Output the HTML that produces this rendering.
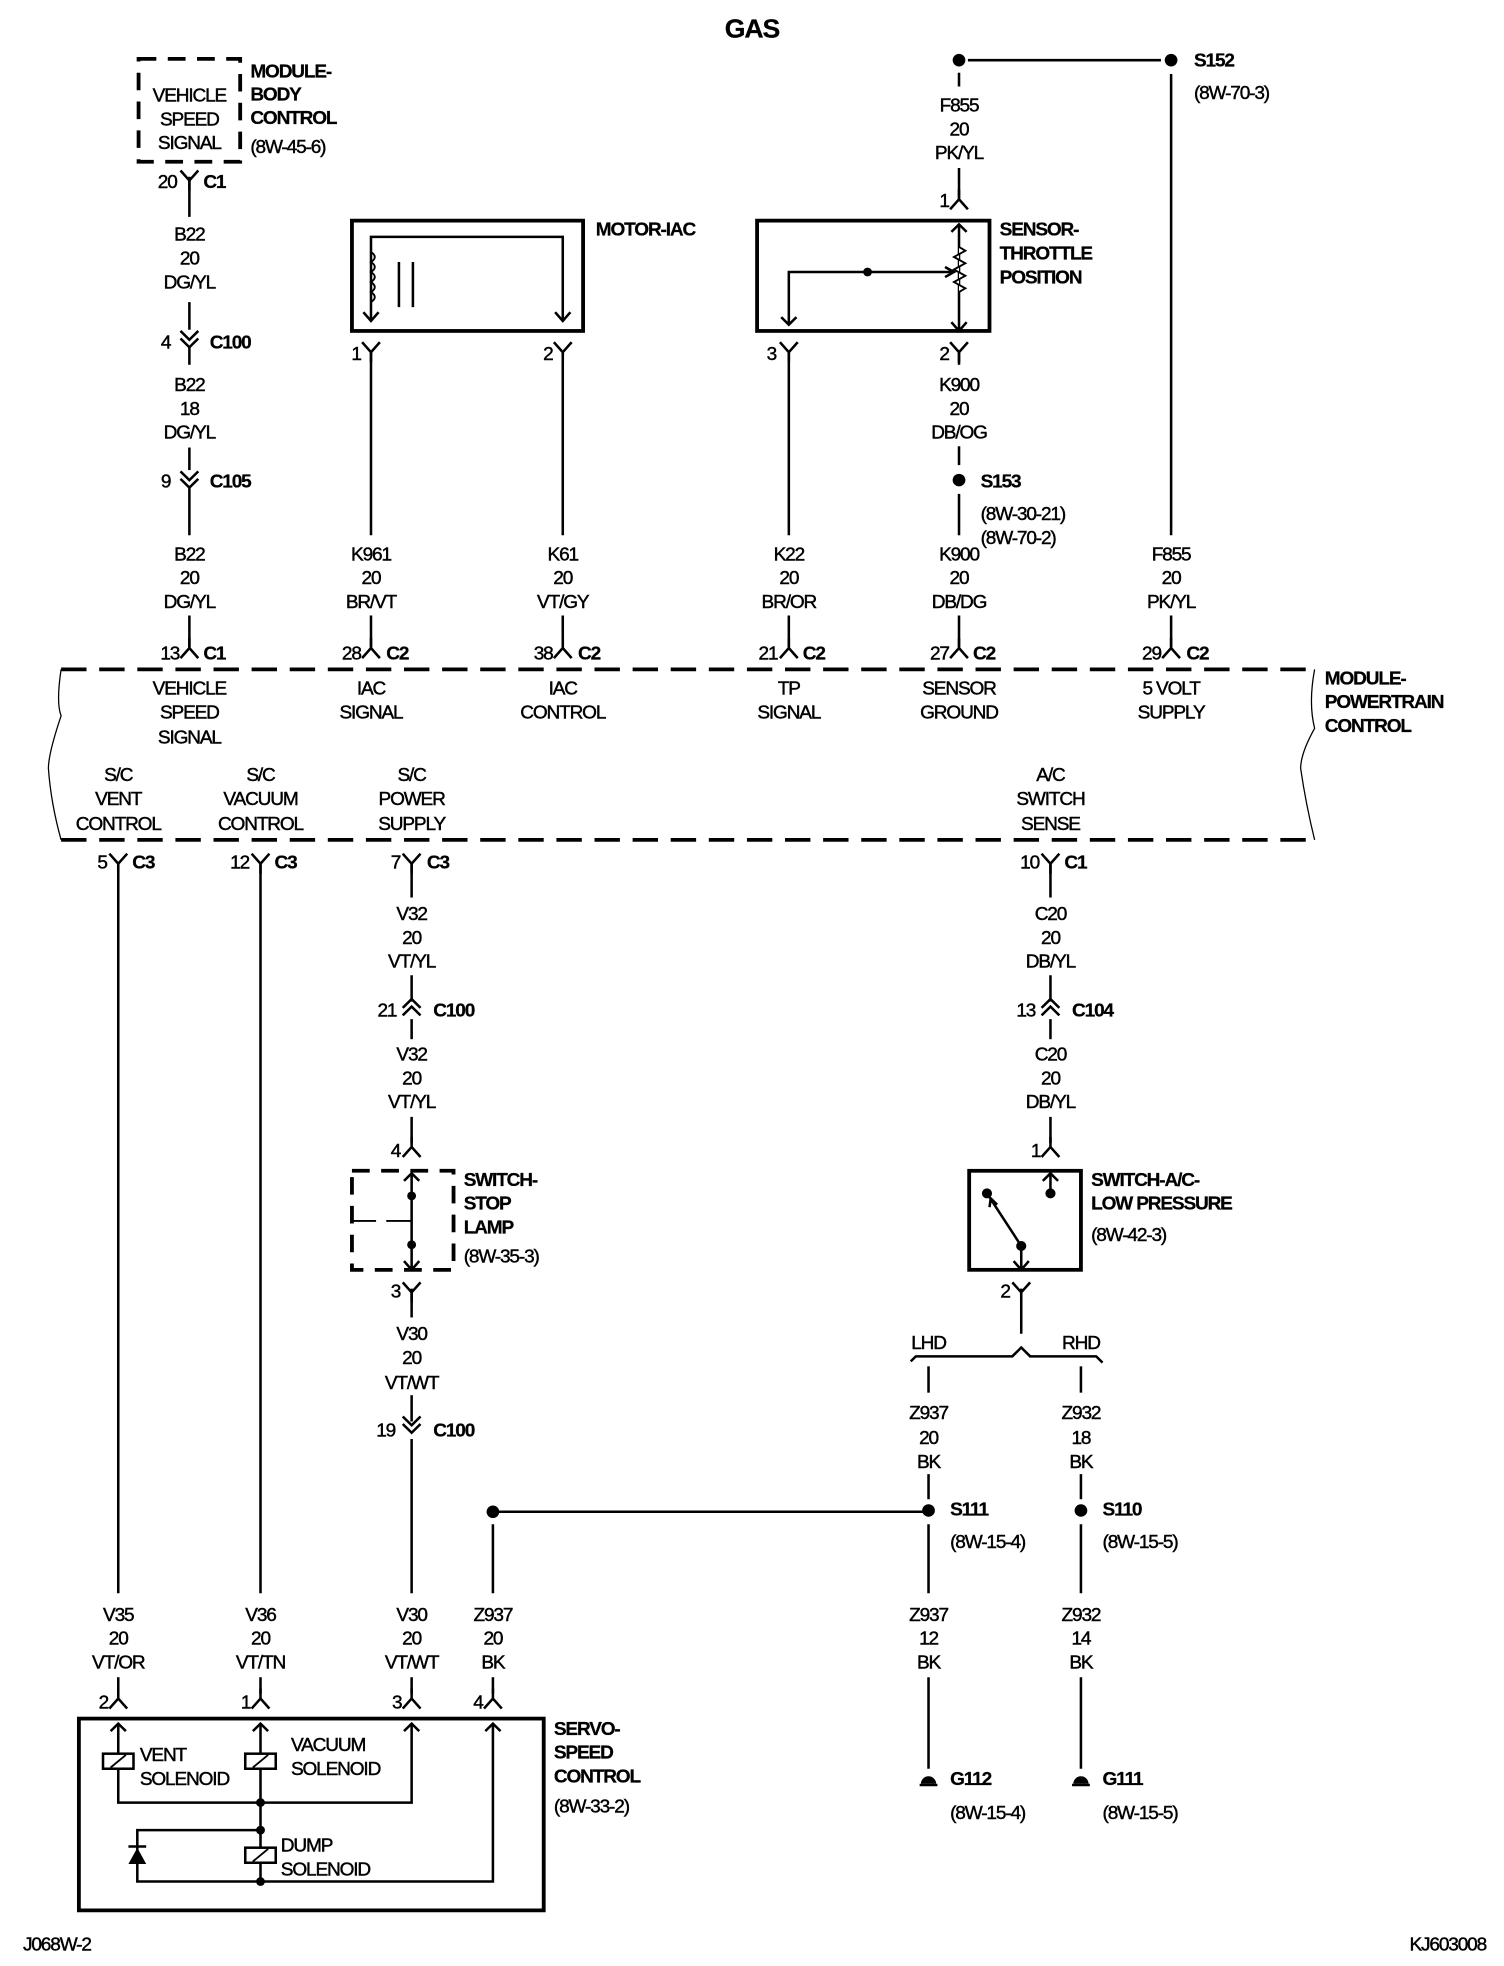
<!DOCTYPE html>
<html><head><meta charset="utf-8"><style>
html,body{margin:0;padding:0;background:#fff}
svg{display:block}
text{font-family:"Liberation Sans",Arial,sans-serif;font-size:15px;fill:#000;letter-spacing:-0.9px;stroke:#000;stroke-width:0.35px}
.b{font-weight:bold;stroke-width:0.2px}
.m{text-anchor:middle}
.e{text-anchor:end}
</style></head><body>
<svg width="1504" height="1966" viewBox="0 0 1184 1548" xmlns="http://www.w3.org/2000/svg">
<defs>
<g id="fy"><path d="M-7,-8 L0,0 L7,-8 M0,0 V8" fill="none" stroke="#000" stroke-width="2"/></g>
<g id="ly"><path d="M-7,8 L0,0 L7,8 M0,0 V-8" fill="none" stroke="#000" stroke-width="2"/></g>
<g id="dn"><path d="M-7,-7 L0,0 L7,-7 M-7,-1 L0,6 L7,-1" fill="none" stroke="#000" stroke-width="2"/></g>
<g id="up"><path d="M-7,7 L0,0 L7,7 M-7,1 L0,-6 L7,1" fill="none" stroke="#000" stroke-width="2"/></g>
</defs>
<g transform="translate(0,1) scale(1,0.987)">
<g stroke="#000" stroke-width="2" fill="none">
<rect x="109" y="46" width="80" height="82" stroke-width="3" stroke-dasharray="14,9"/>
<line x1="149" y1="140" x2="149" y2="172"/>
<line x1="149" y1="240" x2="149" y2="262"/>
<line x1="149" y1="276" x2="149" y2="290"/>
<line x1="149" y1="356" x2="149" y2="374"/>
<line x1="149" y1="388" x2="149" y2="426"/>
<line x1="149" y1="490" x2="149" y2="515"/>
<line x1="48" y1="533" x2="1035" y2="533" stroke-width="3" stroke-dasharray="20,10"/>
<line x1="48" y1="669" x2="1035" y2="669" stroke-width="3" stroke-dasharray="20,10"/>
<path d="M48,533 Q44,560 48,570 Q38,600 38,612 Q40,640 48,669" stroke-width="1"/>
<path d="M1035,533 Q1030,560 1035,580 Q1024,600 1024,612 Q1028,640 1035,669" stroke-width="1"/>
<rect x="277" y="175" width="182" height="88" stroke-width="3"/>
<path d="M292,255 V188 H443 V255"/>
<path d="M286,248 L292,255 L298,248 M437,248 L443,255 L449,248"/>
<path d="M292,200 q6,4 0,8 q6,4 0,8 q6,4 0,8 q6,4 0,8 q6,4 0,8" stroke-width="1.5"/>
<line x1="314" y1="208" x2="314" y2="244"/><line x1="325" y1="208" x2="325" y2="244"/>
<line x1="292" y1="280" x2="292" y2="426"/>
<line x1="443" y1="280" x2="443" y2="426"/>
<line x1="292" y1="490" x2="292" y2="515"/>
<line x1="443" y1="490" x2="443" y2="515"/>
<line x1="762" y1="47" x2="914" y2="47"/>
<line x1="755" y1="57" x2="755" y2="68"/>
<line x1="755" y1="133" x2="755" y2="157"/>
<rect x="596" y="175" width="183" height="88" stroke-width="3"/>
<path d="M755,178 V263 M749,184 L755,178 L761,184 M749,256 L755,263 L761,256"/>
<path d="M755,196 l5,3 l-9,5 l9,5 l-9,5 l9,5 l-9,5 l9,5 l-5,3" fill="#fff" stroke-width="1.5"/>
<path d="M621,258 V216 H750 M615,252 L621,258 L627,252 M744,212 L751,216 L744,220"/>
<line x1="621" y1="280" x2="621" y2="426"/>
<line x1="755" y1="280" x2="755" y2="290"/>
<line x1="755" y1="355" x2="755" y2="370"/>
<line x1="755" y1="393" x2="755" y2="426"/>
<line x1="621" y1="490" x2="621" y2="515"/>
<line x1="755" y1="490" x2="755" y2="515"/>
<line x1="922" y1="58" x2="922" y2="426"/>
<line x1="922" y1="490" x2="922" y2="515"/>
<line x1="93" y1="688" x2="93" y2="1270"/>
<line x1="205" y1="688" x2="205" y2="1270"/>
<line x1="93" y1="1337" x2="93" y2="1350"/>
<line x1="205" y1="1337" x2="205" y2="1350"/>
<line x1="324" y1="688" x2="324" y2="715"/>
<line x1="324" y1="777" x2="324" y2="798"/>
<line x1="324" y1="812" x2="324" y2="828"/>
<line x1="324" y1="890" x2="324" y2="911"/>
<rect x="277" y="933" width="80" height="79" stroke-width="3" stroke-dasharray="14,9"/>
<path d="M324,935 V1012 M318,941 L324,935 L330,941 M318,1005 L324,1012 L330,1005"/>
<line x1="277" y1="973" x2="296" y2="973" stroke-width="1.5"/>
<line x1="304" y1="973" x2="324" y2="973" stroke-width="1.5"/>
<line x1="324" y1="1027" x2="324" y2="1050"/>
<line x1="324" y1="1112" x2="324" y2="1133"/>
<line x1="324" y1="1147" x2="324" y2="1270"/>
<line x1="324" y1="1337" x2="324" y2="1350"/>
<line x1="388" y1="1205" x2="731" y2="1205"/>
<line x1="388" y1="1215" x2="388" y2="1270"/>
<line x1="388" y1="1337" x2="388" y2="1350"/>
<rect x="62" y="1370" width="366" height="153" stroke-width="3"/>
<path d="M93,1374 V1437 H324 V1374 M205,1374 V1500 M388,1374 V1500 H108 V1459 H205"/>
<path d="M87,1380 L93,1374 L99,1380 M199,1380 L205,1374 L211,1380 M318,1380 L324,1374 L330,1380 M382,1380 L388,1374 L394,1380"/>
<rect x="81" y="1398" width="24" height="12" fill="#fff"/><line x1="87" y1="1409" x2="99" y2="1399" stroke-width="1.5"/>
<rect x="193" y="1398" width="24" height="12" fill="#fff"/><line x1="199" y1="1409" x2="211" y2="1399" stroke-width="1.5"/>
<rect x="193" y="1473" width="24" height="12" fill="#fff"/><line x1="199" y1="1484" x2="211" y2="1474" stroke-width="1.5"/>
<line x1="101" y1="1472" x2="115" y2="1472"/>
<line x1="827" y1="688" x2="827" y2="715"/>
<line x1="827" y1="777" x2="827" y2="798"/>
<line x1="827" y1="812" x2="827" y2="828"/>
<line x1="827" y1="890" x2="827" y2="911"/>
<rect x="763" y="933" width="88" height="79" stroke-width="3"/>
<path d="M827,935 V951 M821,941 L827,935 L833,941"/>
<path d="M777,951 L804,993 V1012 M798,1005 L804,1012 L810,1005 M779,962 L780,955 L785,960"/>
<line x1="804" y1="1027" x2="804" y2="1063"/>
<path d="M717,1085 L721,1081 H797 L804,1074 L811,1081 H863 L868,1086"/>
<line x1="731" y1="1089" x2="731" y2="1110"/>
<line x1="731" y1="1175" x2="731" y2="1195"/>
<line x1="731" y1="1215" x2="731" y2="1270"/>
<line x1="731" y1="1337" x2="731" y2="1410"/>
<line x1="851" y1="1089" x2="851" y2="1110"/>
<line x1="851" y1="1175" x2="851" y2="1195"/>
<line x1="851" y1="1215" x2="851" y2="1270"/>
<line x1="851" y1="1337" x2="851" y2="1410"/>
<line x1="724" y1="1423" x2="738" y2="1423"/>
<line x1="844" y1="1423" x2="858" y2="1423"/>
</g>
<g fill="#000">
<circle cx="755" cy="47" r="5"/><circle cx="922" cy="47" r="5"/><circle cx="755" cy="382" r="5"/>
<circle cx="683" cy="216" r="3.5"/>
<circle cx="324" cy="953" r="3.5"/><circle cx="324" cy="992" r="3.5"/>
<circle cx="388" cy="1205" r="5"/><circle cx="731" cy="1204" r="5"/><circle cx="851" cy="1204" r="5"/>
<circle cx="205" cy="1437" r="3.5"/><circle cx="205" cy="1459" r="3.5"/><circle cx="205" cy="1500" r="3.5"/>
<circle cx="827" cy="951" r="4"/><circle cx="777" cy="951" r="4"/><circle cx="804" cy="993" r="4"/>
<path d="M101,1486 L115,1486 L108,1473 Z"/>
<path d="M725,1422 A6,6 0 0 1 737,1422 Z"/><path d="M845,1422 A6,6 0 0 1 857,1422 Z"/>
</g>
<use href="#fy" x="149" y="143"/><use href="#dn" x="149" y="270"/><use href="#dn" x="149" y="382"/><use href="#ly" x="149" y="516"/>
<use href="#fy" x="292" y="280"/><use href="#fy" x="443" y="280"/><use href="#ly" x="292" y="516"/><use href="#ly" x="443" y="516"/>
<use href="#ly" x="755" y="158"/><use href="#fy" x="621" y="280"/><use href="#fy" x="755" y="280"/>
<use href="#ly" x="621" y="516"/><use href="#ly" x="755" y="516"/><use href="#ly" x="922" y="516"/>
<use href="#fy" x="93" y="688"/><use href="#fy" x="205" y="688"/><use href="#fy" x="324" y="688"/><use href="#fy" x="827" y="688"/>
<use href="#up" x="324" y="802"/><use href="#up" x="827" y="802"/>
<use href="#ly" x="324" y="914"/><use href="#ly" x="827" y="914"/>
<use href="#fy" x="324" y="1030"/><use href="#fy" x="804" y="1030"/>
<use href="#dn" x="324" y="1136"/>
<use href="#ly" x="93" y="1354"/><use href="#ly" x="205" y="1354"/><use href="#ly" x="324" y="1354"/><use href="#ly" x="388" y="1354"/>

<text x="592" y="29" class="b m" style="font-size:21px">GAS</text>
<text x="149" y="80" class="m">VEHICLE</text><text x="149" y="99" class="m">SPEED</text><text x="149" y="118" class="m">SIGNAL</text>
<text x="197" y="61" class="b">MODULE-</text><text x="197" y="79" class="b">BODY</text><text x="197" y="98" class="b">CONTROL</text><text x="197" y="121">(8W-45-6)</text>
<text x="139" y="149" class="e">20</text><text x="160" y="149" class="b">C1</text>
<text x="149" y="191" class="m">B22</text><text x="149" y="210" class="m">20</text><text x="149" y="229" class="m">DG/YL</text>
<text x="134" y="277" class="e">4</text><text x="165" y="277" class="b">C100</text>
<text x="149" y="311" class="m">B22</text><text x="149" y="330" class="m">18</text><text x="149" y="349" class="m">DG/YL</text>
<text x="134" y="388" class="e">9</text><text x="165" y="388" class="b">C105</text>
<text x="149" y="446" class="m">B22</text><text x="149" y="465" class="m">20</text><text x="149" y="484" class="m">DG/YL</text>
<text x="141" y="525" class="e">13</text><text x="160" y="525" class="b">C1</text>

<text x="469" y="187" class="b">MOTOR-IAC</text>
<text x="284" y="286" class="e">1</text><text x="435" y="286" class="e">2</text>
<text x="292" y="446" class="m">K961</text><text x="292" y="465" class="m">20</text><text x="292" y="484" class="m">BR/VT</text>
<text x="443" y="446" class="m">K61</text><text x="443" y="465" class="m">20</text><text x="443" y="484" class="m">VT/GY</text>
<text x="284" y="525" class="e">28</text><text x="304" y="525" class="b">C2</text>
<text x="435" y="525" class="e">38</text><text x="455" y="525" class="b">C2</text>

<text x="940" y="52" class="b">S152</text><text x="940" y="78">(8W-70-3)</text>
<text x="755" y="88" class="m">F855</text><text x="755" y="107" class="m">20</text><text x="755" y="126" class="m">PK/YL</text>
<text x="747" y="164" class="e">1</text>
<text x="787" y="187" class="b">SENSOR-</text><text x="787" y="206" class="b">THROTTLE</text><text x="787" y="225" class="b">POSITION</text>
<text x="611" y="286" class="e">3</text><text x="747" y="286" class="e">2</text>
<text x="755" y="311" class="m">K900</text><text x="755" y="330" class="m">20</text><text x="755" y="349" class="m">DB/OG</text>
<text x="772" y="388" class="b">S153</text><text x="772" y="414">(8W-30-21)</text><text x="772" y="433">(8W-70-2)</text>
<text x="621" y="446" class="m">K22</text><text x="621" y="465" class="m">20</text><text x="621" y="484" class="m">BR/OR</text>
<text x="755" y="446" class="m">K900</text><text x="755" y="465" class="m">20</text><text x="755" y="484" class="m">DB/DG</text>
<text x="922" y="446" class="m">F855</text><text x="922" y="465" class="m">20</text><text x="922" y="484" class="m">PK/YL</text>
<text x="612" y="525" class="e">21</text><text x="632" y="525" class="b">C2</text>
<text x="747" y="525" class="e">27</text><text x="766" y="525" class="b">C2</text>
<text x="914" y="525" class="e">29</text><text x="934" y="525" class="b">C2</text>

<text x="1043" y="545" class="b">MODULE-</text><text x="1043" y="564" class="b">POWERTRAIN</text><text x="1043" y="583" class="b">CONTROL</text>
<text x="149" y="553" class="m">VEHICLE</text><text x="149" y="572" class="m">SPEED</text><text x="149" y="592" class="m">SIGNAL</text>
<text x="292" y="553" class="m">IAC</text><text x="292" y="572" class="m">SIGNAL</text>
<text x="443" y="553" class="m">IAC</text><text x="443" y="572" class="m">CONTROL</text>
<text x="621" y="553" class="m">TP</text><text x="621" y="572" class="m">SIGNAL</text>
<text x="755" y="553" class="m">SENSOR</text><text x="755" y="572" class="m">GROUND</text>
<text x="922" y="553" class="m">5 VOLT</text><text x="922" y="572" class="m">SUPPLY</text>
<text x="93" y="622" class="m">S/C</text><text x="93" y="641" class="m">VENT</text><text x="93" y="661" class="m">CONTROL</text>
<text x="205" y="622" class="m">S/C</text><text x="205" y="641" class="m">VACUUM</text><text x="205" y="661" class="m">CONTROL</text>
<text x="324" y="622" class="m">S/C</text><text x="324" y="641" class="m">POWER</text><text x="324" y="661" class="m">SUPPLY</text>
<text x="827" y="622" class="m">A/C</text><text x="827" y="641" class="m">SWITCH</text><text x="827" y="661" class="m">SENSE</text>

<text x="84" y="692" class="e">5</text><text x="104" y="692" class="b">C3</text>
<text x="196" y="692" class="e">12</text><text x="216" y="692" class="b">C3</text>
<text x="315" y="692" class="e">7</text><text x="336" y="692" class="b">C3</text>
<text x="818" y="692" class="e">10</text><text x="838" y="692" class="b">C1</text>

<text x="324" y="733" class="m">V32</text><text x="324" y="752" class="m">20</text><text x="324" y="771" class="m">VT/YL</text>
<text x="312" y="810" class="e">21</text><text x="341" y="810" class="b">C100</text>
<text x="324" y="845" class="m">V32</text><text x="324" y="864" class="m">20</text><text x="324" y="883" class="m">VT/YL</text>
<text x="315" y="922" class="e">4</text>
<text x="365" y="945" class="b">SWITCH-</text><text x="365" y="964" class="b">STOP</text><text x="365" y="983" class="b">LAMP</text><text x="365" y="1006">(8W-35-3)</text>
<text x="315" y="1034" class="e">3</text>
<text x="324" y="1068" class="m">V30</text><text x="324" y="1087" class="m">20</text><text x="324" y="1107" class="m">VT/WT</text>
<text x="311" y="1145" class="e">19</text><text x="341" y="1145" class="b">C100</text>

<text x="93" y="1292" class="m">V35</text><text x="93" y="1311" class="m">20</text><text x="93" y="1330" class="m">VT/OR</text>
<text x="205" y="1292" class="m">V36</text><text x="205" y="1311" class="m">20</text><text x="205" y="1330" class="m">VT/TN</text>
<text x="324" y="1292" class="m">V30</text><text x="324" y="1311" class="m">20</text><text x="324" y="1330" class="m">VT/WT</text>
<text x="388" y="1292" class="m">Z937</text><text x="388" y="1311" class="m">20</text><text x="388" y="1330" class="m">BK</text>
<text x="85" y="1362" class="e">2</text><text x="197" y="1362" class="e">1</text><text x="316" y="1362" class="e">3</text><text x="380" y="1362" class="e">4</text>
<text x="110" y="1404">VENT</text><text x="110" y="1423">SOLENOID</text>
<text x="229" y="1396">VACUUM</text><text x="229" y="1415">SOLENOID</text>
<text x="221" y="1476">DUMP</text><text x="221" y="1495">SOLENOID</text>
<text x="436" y="1383" class="b">SERVO-</text><text x="436" y="1402" class="b">SPEED</text><text x="436" y="1421" class="b">CONTROL</text><text x="436" y="1445">(8W-33-2)</text>

<text x="827" y="733" class="m">C20</text><text x="827" y="752" class="m">20</text><text x="827" y="771" class="m">DB/YL</text>
<text x="815" y="810" class="e">13</text><text x="844" y="810" class="b">C104</text>
<text x="827" y="845" class="m">C20</text><text x="827" y="864" class="m">20</text><text x="827" y="883" class="m">DB/YL</text>
<text x="819" y="922" class="e">1</text>
<text x="859" y="945" class="b">SWITCH-A/C-</text><text x="859" y="964" class="b">LOW PRESSURE</text><text x="859" y="989">(8W-42-3)</text>
<text x="795" y="1034" class="e">2</text>
<text x="731" y="1075" class="m">LHD</text><text x="851" y="1075" class="m">RHD</text>
<text x="731" y="1131" class="m">Z937</text><text x="731" y="1151" class="m">20</text><text x="731" y="1170" class="m">BK</text>
<text x="851" y="1131" class="m">Z932</text><text x="851" y="1151" class="m">18</text><text x="851" y="1170" class="m">BK</text>
<text x="748" y="1208" class="b">S111</text><text x="748" y="1234">(8W-15-4)</text>
<text x="868" y="1208" class="b">S110</text><text x="868" y="1234">(8W-15-5)</text>
<text x="731" y="1292" class="m">Z937</text><text x="731" y="1311" class="m">12</text><text x="731" y="1330" class="m">BK</text>
<text x="851" y="1292" class="m">Z932</text><text x="851" y="1311" class="m">14</text><text x="851" y="1330" class="m">BK</text>
<text x="748" y="1423" class="b">G112</text><text x="748" y="1450">(8W-15-4)</text>
<text x="868" y="1423" class="b">G111</text><text x="868" y="1450">(8W-15-5)</text>

<text x="18" y="1555">J068W-2</text>
<text x="1170" y="1555" class="e">KJ603008</text>
</g>
</svg>
</body></html>
